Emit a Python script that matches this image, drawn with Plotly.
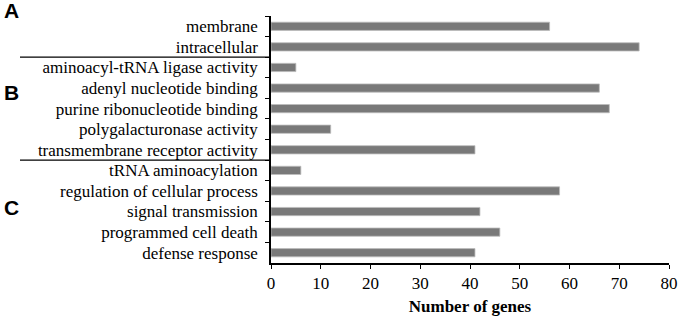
import plotly.graph_objects as go

categories = [
    "membrane", "intracellular",
    "aminoacyl-tRNA ligase activity", "adenyl nucleotide binding",
    "purine ribonucleotide binding", "polygalacturonase activity",
    "transmembrane receptor activity",
    "tRNA aminoacylation", "regulation of cellular process",
    "signal transmission", "programmed cell death", "defense response",
]
values = [56, 74, 5, 66, 68, 12, 41, 6, 58, 42, 46, 41]
group_labels = ["A", "B", "C"]
x_ticks = [0, 10, 20, 30, 40, 50, 60, 70, 80]

L, R, T, B = 271, 11, 16, 55
W, H = 680, 318
pw = W - L - R
ph = H - T - B

fig = go.Figure(go.Bar(
    x=values, y=categories, orientation="h",
    marker=dict(color="#797979", line=dict(color="#bdbdbd", width=0.8)),
    width=0.4,
))

fig.update_layout(
    width=W, height=H,
    margin=dict(l=L, r=R, t=T, b=B, autoexpand=False),
    paper_bgcolor="white", plot_bgcolor="white",
    showlegend=False,
    font=dict(family="Liberation Serif", size=17, color="black"),
)
fig.update_xaxes(
    range=[0, 80], tickvals=x_ticks, showgrid=False, zeroline=False,
    showline=True, linecolor="black", linewidth=1.5,
    ticks="outside", ticklen=4, tickwidth=1.2, tickcolor="black",
    tickfont=dict(size=17), automargin=False,
    title=dict(text="<b>Number of genes</b>", font=dict(size=17), standoff=8),
)
fig.update_yaxes(
    autorange="reversed", showgrid=False, zeroline=False,
    showline=True, linecolor="black", linewidth=1.5,
    ticks="outside", ticklen=4, tickwidth=1.2, tickcolor="black",
    tickson="boundaries", tickfont=dict(size=17), automargin=False,
    ticklabelstandoff=8,
)

# group separator lines
for yv in [1.5, 6.5]:
    fig.add_shape(type="line", xref="paper", yref="y",
                  x0=(20 - L) / pw, x1=0, y0=yv, y1=yv,
                  line=dict(color="black", width=1.2))

# group labels
for lab, py in zip(group_labels, [11, 92, 207]):
    fig.add_annotation(text=f"<b>{lab}</b>", xref="paper", yref="paper",
                       x=(11 - L) / pw, y=(H - B - py) / ph, showarrow=False,
                       xanchor="center", yanchor="middle",
                       font=dict(family="Liberation Sans", size=21, color="black"))

fig.write_html(
    "out.html",
    config={"displayModeBar": False},
    post_script="document.body.style.margin='0';document.body.style.padding='0';"
                "document.body.style.overflow='hidden';",
)
